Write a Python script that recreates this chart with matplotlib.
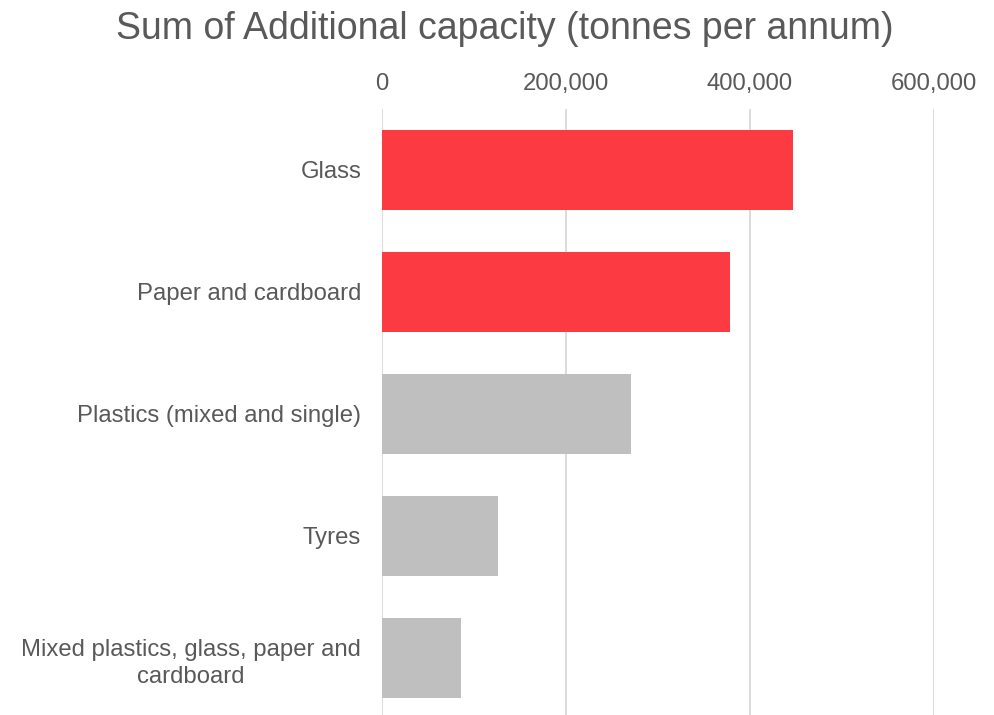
import matplotlib.pyplot as plt
from matplotlib.ticker import FuncFormatter

categories = ["Glass", "Paper and cardboard", "Plastics (mixed and single)", "Tyres",
              "Mixed plastics, glass, paper and\ncardboard"]
capacity = [447000, 378000, 271000, 126000, 86000]
bar_colors = ["#FC3A41", "#FC3A41", "#BFBFBF", "#BFBFBF", "#BFBFBF"]
x_ticks = [0, 200000, 400000, 600000]

text_col = "#595959"
plt.rcParams['font.family'] = ['Liberation Sans', 'DejaVu Sans']

fig = plt.figure(figsize=(9.94, 7.15), dpi=100)
ax = fig.add_axes([382 / 994, -0.0056, (934 - 382) / 994, 0.8532])

ax.barh(range(len(categories)), capacity, height=0.66, color=bar_colors, zorder=3)
ax.set_ylim(4.5, -0.5)
ax.set_xlim(0, 600000)

ax.xaxis.tick_top()
ax.set_xticks(x_ticks)
ax.xaxis.set_major_formatter(FuncFormatter(lambda v, p: f"{int(v):,}"))
ax.set_yticks(range(len(categories)))
ax.set_yticklabels(categories)
for lbl in ax.get_yticklabels():
    lbl.set_multialignment('center')
    lbl.set_linespacing(1.3)
ax.tick_params(axis='x', length=0, pad=10, labelsize=17.2, labelcolor=text_col)
ax.tick_params(axis='y', length=0, pad=15, labelsize=17.2, labelcolor=text_col)

ax.grid(axis='x', color="#D9D9D9", linewidth=1.3, zorder=0)
for s in ax.spines.values():
    s.set_visible(False)

fig.text(505 / 994, 1 - 29 / 715, "Sum of Additional capacity (tonnes per annum)",
         ha='center', va='center', fontsize=27, color=text_col)

fig.savefig("out.png", dpi=100)
